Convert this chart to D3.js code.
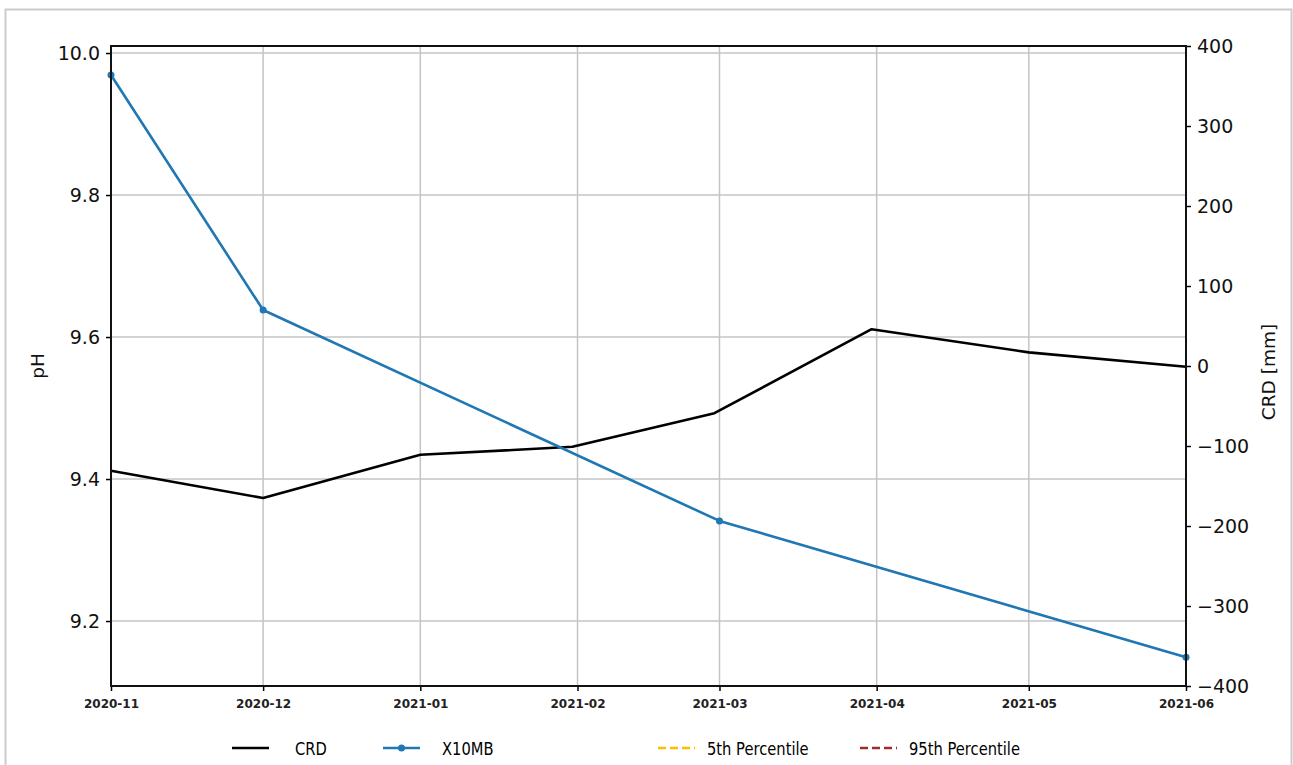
<!DOCTYPE html>
<html>
<head>
<meta charset="utf-8">
<script src="https://cdn.jsdelivr.net/npm/d3@7"></script>
<style>
  html, body { margin: 0; padding: 0; background: #fff; }
  svg { display: block; font-family: "DejaVu Sans", sans-serif; }
</style>
</head>
<body>
<svg id="chart" width="1293" height="765"></svg>
<script>
// ---- data ----
const crdDates = ["2020-11-01", "2020-12-01", "2021-01-01", "2021-01-31", "2021-02-28", "2021-03-31", "2021-05-01", "2021-06-01"];
const crdValues = [-131, -165, -111, -101, -59, 46, 17, -1];
const x10mbDates = ["2020-11-01", "2020-12-01", "2021-03-01", "2021-06-01"];
const x10mbValues = [9.969, 9.638, 9.341, 9.149];
const xTickLabels = ["2020-11", "2020-12", "2021-01", "2021-02", "2021-03", "2021-04", "2021-05", "2021-06"];
const phTicks = [9.2, 9.4, 9.6, 9.8, 10.0];
const crdTicks = [-400, -300, -200, -100, 0, 100, 200, 300, 400];
const legendLabels = ["CRD", "X10MB", "5th Percentile", "95th Percentile"];
const legendColors = ["#000000", "#1f77b4", "#ffbf00", "#a52a2a"];

const parse = d3.timeParse("%Y-%m-%d");
const parseM = d3.timeParse("%Y-%m");

const svg = d3.select("#chart");
const m = { left: 111, right: 1186, top: 46, bottom: 686 };

// frame
svg.append("rect").attr("x", 5.5).attr("y", 9.5).attr("width", 1286).attr("height", 770)
  .attr("fill", "none").attr("stroke", "#cccccc").attr("stroke-width", 2);

const x = d3.scaleTime()
  .domain([parseM(xTickLabels[0]), parseM(xTickLabels[xTickLabels.length - 1])])
  .range([m.left, m.right]);
const yL = d3.scaleLinear().domain([9.1085, 10.0099]).range([m.bottom, m.top]);
const yR = d3.scaleLinear().domain([-400, 400]).range([m.bottom, m.top]);

// grid
const grid = svg.append("g");
xTickLabels.forEach(t => {
  grid.append("line").attr("x1", x(parseM(t))).attr("x2", x(parseM(t)))
    .attr("y1", m.top).attr("y2", m.bottom).attr("stroke", "#c4c4c4").attr("stroke-width", 1.5);
});
phTicks.forEach(t => {
  grid.append("line").attr("x1", m.left).attr("x2", m.right)
    .attr("y1", yL(t)).attr("y2", yL(t)).attr("stroke", "#c4c4c4").attr("stroke-width", 1.5);
});

// lines
const crdLine = d3.line().x((d, i) => x(parse(crdDates[i]))).y(d => yR(d));
svg.append("path").datum(crdValues).attr("d", crdLine)
  .attr("fill", "none").attr("stroke", "#000").attr("stroke-width", 2.6).attr("stroke-linejoin", "round");

const xLine = d3.line().x((d, i) => x(parse(x10mbDates[i]))).y(d => yL(d));
svg.append("path").datum(x10mbValues).attr("d", xLine)
  .attr("fill", "none").attr("stroke", "#1f77b4").attr("stroke-width", 2.6).attr("stroke-linejoin", "round");
svg.selectAll(".mk").data(x10mbValues).enter().append("circle")
  .attr("cx", (d, i) => x(parse(x10mbDates[i]))).attr("cy", d => yL(d))
  .attr("r", 3.5).attr("fill", "#1f77b4");

// axes
const axL = svg.append("g").attr("transform", `translate(${m.left},0)`)
  .call(d3.axisLeft(yL).tickValues(phTicks).tickFormat(d3.format(".1f")).tickSize(5).tickPadding(6));
const axR = svg.append("g").attr("transform", `translate(${m.right},0)`)
  .call(d3.axisRight(yR).tickValues(crdTicks).tickFormat(d => d < 0 ? "\u2212" + Math.abs(d) : d).tickSize(5).tickPadding(6));
const axB = svg.append("g").attr("transform", `translate(0,${m.bottom})`)
  .call(d3.axisBottom(x).tickValues(xTickLabels.map(parseM)).tickFormat(d3.timeFormat("%Y-%m")).tickSize(5).tickPadding(8));

[axL, axR].forEach(a => {
  a.select(".domain").remove();
  a.selectAll("line").attr("stroke", "#000").attr("stroke-width", 1.5);
  a.selectAll("text").attr("font-size", 19).attr("fill", "#111").attr("font-family", "DejaVu Sans");
});
axB.select(".domain").remove();
axB.selectAll("line").attr("stroke", "#000").attr("stroke-width", 1.5);
axB.selectAll("text").attr("font-size", 12).attr("font-weight", "bold").attr("fill", "#222").attr("font-family", "DejaVu Sans");

// spines
svg.append("rect").attr("x", m.left).attr("y", m.top).attr("width", m.right - m.left).attr("height", m.bottom - m.top)
  .attr("fill", "none").attr("stroke", "#111").attr("stroke-width", 2);

// axis labels
svg.append("text").attr("transform", `translate(44,${(m.top + m.bottom) / 2}) rotate(-90)`)
  .attr("text-anchor", "middle").attr("font-size", 18.5).attr("fill", "#111").text("pH");
svg.append("text").attr("transform", `translate(1275,${(m.top + m.bottom) / 2 + 6}) rotate(-90)`)
  .attr("text-anchor", "middle").attr("font-size", 18.5).attr("fill", "#111").text("CRD [mm]");

// legend
const legX = [232, 383, 658, 860];
const lg = svg.append("g");
legendLabels.forEach((lab, i) => {
  const lx = legX[i], ly = 748;
  const ln = lg.append("line").attr("x1", lx).attr("x2", lx + 37).attr("y1", ly).attr("y2", ly)
    .attr("stroke", legendColors[i]).attr("stroke-width", 2.6);
  if (i >= 2) ln.attr("stroke-dasharray", "8,4");
  if (i === 1) lg.append("circle").attr("cx", lx + 18.5).attr("cy", ly).attr("r", 3.5).attr("fill", legendColors[i]);
  const tx = lx + (i === 0 ? 63 : i === 1 ? 59 : 49);
  lg.append("text").attr("transform", `translate(${tx},${ly + 6.5}) scale(0.84,1)`)
    .attr("font-size", 17.5).attr("fill", "#000")
    .attr("font-family", "DejaVu Sans").text(lab);
});
</script>
</body>
</html>
